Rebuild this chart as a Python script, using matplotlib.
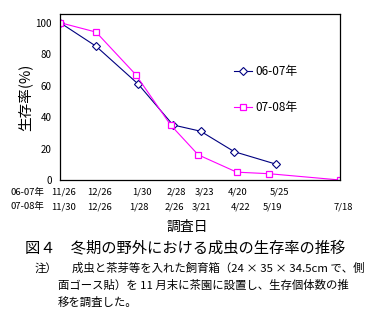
import matplotlib.pyplot as plt

plt.rcParams['font.family'] = ['Noto Sans CJK JP', 'DejaVu Sans']

# days since late November (positions)
days_0607 = [0, 30, 65, 94, 117, 145, 180]
surv_0607 = [100, 85, 61, 35, 31, 18, 10]
dates_0607 = ["11/26", "12/26", "1/30", "2/28", "3/23", "4/20", "5/25"]

days_0708 = [0, 30, 63, 92, 115, 147, 174, 233]
surv_0708 = [100, 94, 67, 35, 16, 5, 4, 0]
dates_0708 = ["11/30", "12/26", "1/28", "2/26", "3/21", "4/22", "5/19", "7/18"]

yticks = [0, 20, 40, 60, 80, 100]

fig = plt.figure(figsize=(3.75, 3.28), dpi=100)
ax = fig.add_axes([0.16, 0.4512, 0.7467, 0.5061])

ax.plot(days_0607, surv_0607, color="#000080", lw=0.8, marker="D", ms=4.5,
        mfc="white", mec="#000080", mew=0.8, label="06-07年")
ax.plot(days_0708, surv_0708, color="#FF00FF", lw=0.8, marker="s", ms=5,
        mfc="white", mec="#FF00FF", mew=0.9, label="07-08年")

ax.set_xlim(0, 233)
ax.set_ylim(0, 105.5)
ax.set_xticks([])
ax.set_yticks(yticks)
ax.tick_params(axis="y", length=0, pad=6, labelsize=7)
for s in ax.spines.values():
    s.set_linewidth(0.9)
ax.set_ylabel("生存率(%)", fontsize=10.5, labelpad=2)

ax.legend(loc="upper left", bbox_to_anchor=(0.6, 0.73), frameon=False,
          borderpad=0, handlelength=1.5, handletextpad=0.3,
          labelspacing=2.0, fontsize=8.5)

# date rows under the axis
tr = ax.get_xaxis_transform()
for d, lab in zip(days_0607, dates_0607):
    ax.text(d + 3, -0.075, lab, transform=tr, ha="center", va="center", fontsize=6.8)
for d, lab in zip(days_0708, dates_0708):
    ax.text(d + 3, -0.16, lab, transform=tr, ha="center", va="center", fontsize=6.8)
fig.text(0.027, 1 - 193 / 328, "06-07年", ha="left", va="center", fontsize=6.8)
fig.text(0.027, 1 - 207 / 328, "07-08年", ha="left", va="center", fontsize=6.8)

fig.text(0.5, 1 - 227 / 328, "調査日", ha="center", va="center", fontsize=10)

fig.text(0.067, 1 - 249 / 328, "図４　冬期の野外における成虫の生存率の推移",
         ha="left", va="center", fontsize=11)
fig.text(0.092, 1 - 268 / 328, "注）", ha="left", va="center", fontsize=8.2)
fig.text(0.192, 1 - 268 / 328, "成虫と茶芽等を入れた飼育箱（24 × 35 × 34.5cm で、側",
         ha="left", va="center", fontsize=8.2)
fig.text(0.155, 1 - 285 / 328, "面ゴース貼）を 11 月末に茶園に設置し、生存個体数の推",
         ha="left", va="center", fontsize=8.2)
fig.text(0.155, 1 - 302 / 328, "移を調査した。",
         ha="left", va="center", fontsize=8.2)

fig.savefig("out.png", dpi=100)
